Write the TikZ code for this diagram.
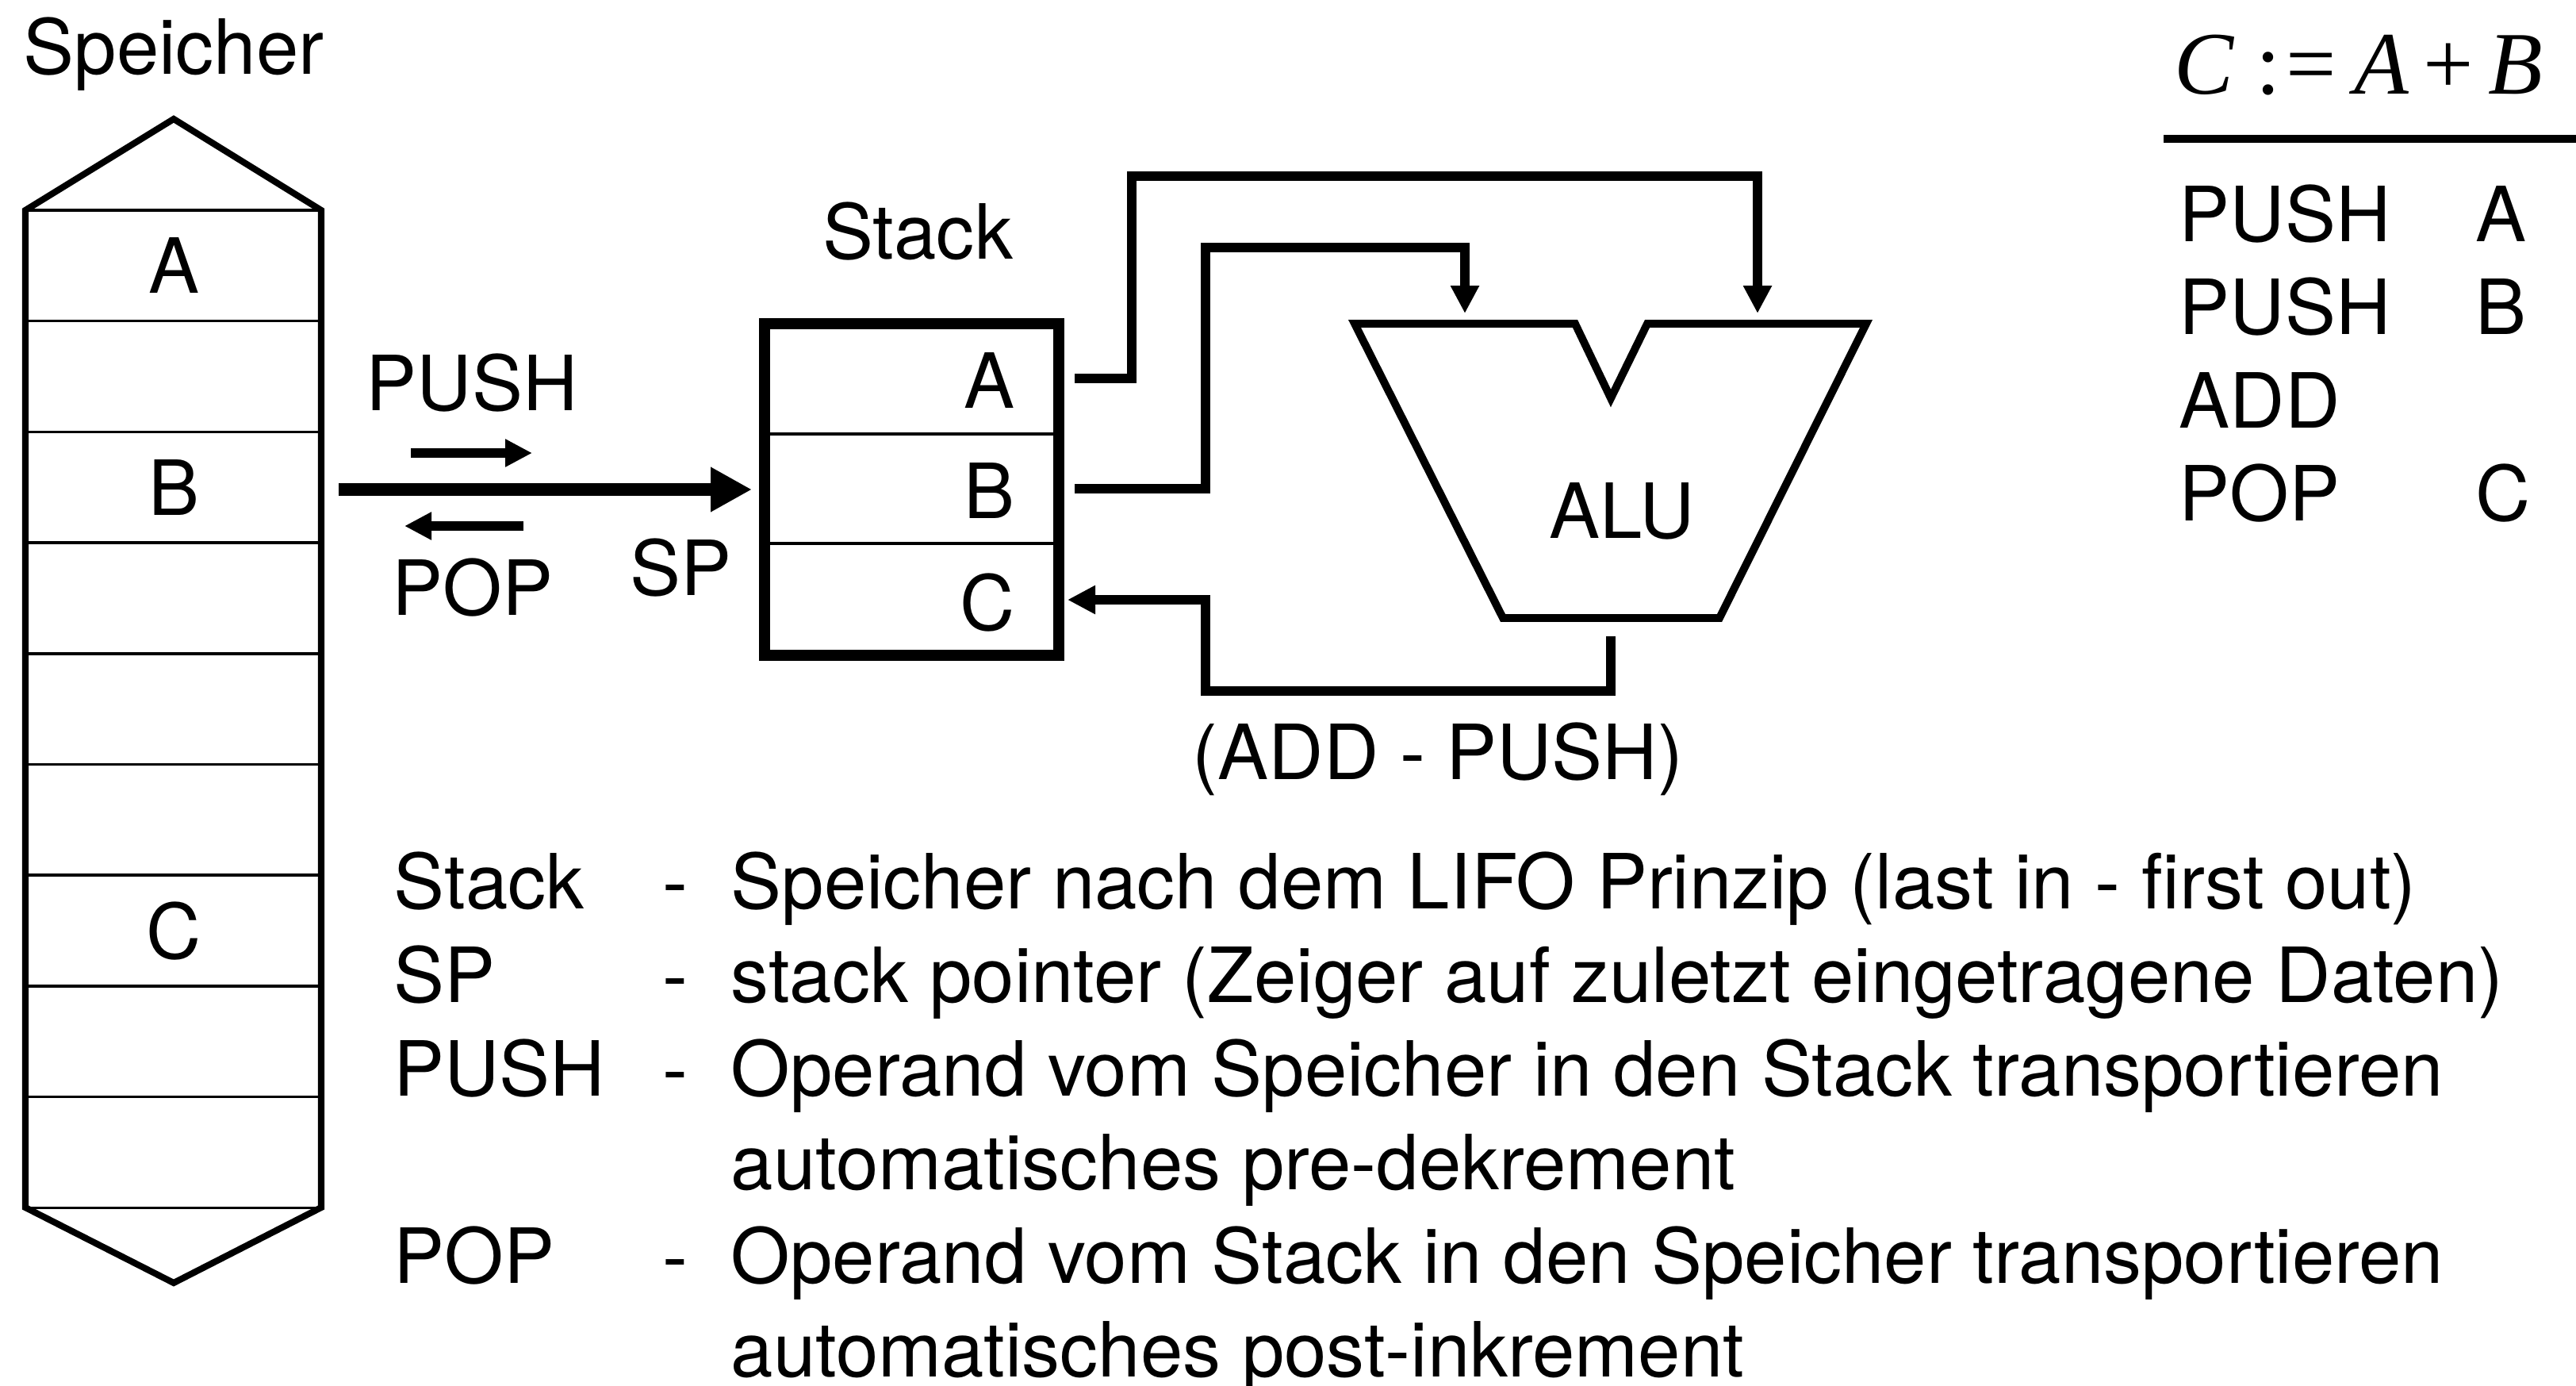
\documentclass[tikz,border=0pt]{standalone}
\usepackage{fontspec}
\setmainfont{TeX Gyre Heros}
\newfontfamily\formfont{Liberation Serif}
\usetikzlibrary{arrows.meta, positioning}

\begin{document}
\begin{tikzpicture}[
        lbl/.style={inner sep=0pt, font=\fontsize{27.3}{33}\selectfont},
        wire/.style={line width=3.4pt, -{Triangle[length=0.35cm, width=0.34cm]}},
        smallarrow/.style={line width=3.6pt, -{Triangle[length=0.34cm, width=0.33cm]}}
    ]
        \useasboundingbox (0,0) rectangle (32.48,-17.46);

        % Memory column
        \draw[line width=2.3pt] (0.32,-2.65) -- (2.19,-1.50) -- (4.05,-2.65) -- (4.05,-15.22) -- (2.19,-16.17) -- (0.32,-15.22) -- cycle;
        \foreach \i in {0,...,9}
            \draw[line width=1pt] (0.32,{-2.65-1.397*\i}) -- (4.05,{-2.65-1.397*\i});
        \node[lbl, anchor=base] (speicher) at (2.19,-0.93) {Speicher};
        \node[lbl] (memA) at (2.19,{-2.65-1.397*0.5}) {A};
        \node[lbl] (memB) at (2.19,{-2.65-1.397*2.5}) {B};
        \node[lbl] (memC) at (2.19,{-2.65-1.397*6.5}) {C};

        % Stack
        \draw[line width=4pt] (9.64,-4.08) rectangle (13.35,-8.26);
        \draw[line width=1pt] (9.64,-5.47) -- (13.35,-5.47) (9.64,-6.85) -- (13.35,-6.85);
        \node[lbl] (stacklabel) at (11.57,-2.92) {Stack};
        \node[lbl, anchor=east] (stackA) at (12.80,-4.80) {A};
        \node[lbl, anchor=east] (stackB) at (12.80,-6.19) {B};
        \node[lbl, anchor=east] (stackC) at (12.80,-7.60) {C};

        % PUSH / POP and stack pointer
        \coordinate (spstart) at (4.27,-6.17);
        \coordinate (spend) at (9.48,-6.17);
        \draw[line width=4.5pt, -{Triangle[length=0.52cm, width=0.53cm]}] (spstart) -- (spend);
        \coordinate (pushL) at (5.18,-5.71);
        \coordinate (pushR) at (6.71,-5.71);
        \coordinate (popR) at (6.60,-6.63);
        \coordinate (popL) at (5.10,-6.63);
        \draw[smallarrow] (pushL) -- (pushR);
        \draw[smallarrow] (popR) -- (popL);
        \node[lbl, anchor=base] (push) at (5.95,-5.17) {PUSH};
        \node[lbl, anchor=base] (pop) at (5.96,-7.75) {POP};
        \node[lbl, anchor=base] (sp) at (8.58,-7.50) {SP};

        % ALU
        \draw[line width=2.8pt] (17.08,-4.08) -- (19.86,-4.08) -- (20.31,-5.02) -- (20.77,-4.08) -- (23.53,-4.08) -- (21.68,-7.79) -- (18.95,-7.79) -- cycle;
        \node[lbl] (alu) at (20.45,-6.44) {ALU};

        % Data paths
        \coordinate (outA) at (13.55,-4.77);
        \coordinate (outB) at (13.55,-6.16);
        \coordinate (inC) at (13.46,-7.56);
        \coordinate (aluinL) at (18.47,-3.95);
        \coordinate (aluinR) at (22.16,-3.95);
        \coordinate (aluout) at (20.31,-8.02);
        \draw[wire] (outA) -| (14.27,-2.22) -| (aluinR);
        \draw[wire] (outB) -| (15.20,-3.12) -| (aluinL);
        \draw[wire] (aluout) |- (15.20,-8.71) |- (inC);
        \node[lbl, anchor=base] (addpush) at (18.13,-9.82) {(ADD - PUSH)};

        % Program
        \node[anchor=base west, inner sep=0pt, font=\formfont\fontsize{32}{36}\selectfont] (formula) at (27.41,-1.18)
            {\textit{C}\hspace{0.24em}:\hspace{0.06em}=\hspace{0.2em}\textit{A}\hspace{0.16em}+\hspace{0.16em}\textit{B}};
        \draw[line width=3.1pt] (27.28,-1.75) -- (32.48,-1.75);
        \foreach \op/\arg [count=\i] in {PUSH/A, PUSH/B, ADD/, POP/C} {
            \node[lbl, anchor=base west] (op\i) at (27.47,{-3.04-1.175*(\i-1)}) {\op};
            \node[lbl, anchor=base west] (arg\i) at (31.21,{-3.04-1.175*(\i-1)}) {\arg};
        }

        % Legend
        \foreach \term/\text [count=\i] in {Stack/Speicher nach dem LIFO Prinzip (last in - first out),
                SP/stack pointer (Zeiger auf zuletzt eingetragene Daten),
                PUSH/Operand vom Speicher in den Stack transportieren,
                /automatisches pre-dekrement,
                POP/Operand vom Stack in den Speicher transportieren,
                /automatisches post-inkrement} {
            \node[lbl, anchor=base west] (term\i) at (4.96,{-11.45-1.18*(\i-1)}) {\term};
            \node[lbl, anchor=base west] (text\i) at (9.21,{-11.45-1.18*(\i-1)}) {\text};
        }
        \foreach \i in {1,2,3,5}
            \node[lbl, anchor=base west] (dash\i) at (8.35,{-11.45-1.18*(\i-1)}) {-};
    \end{tikzpicture}
\end{document}
